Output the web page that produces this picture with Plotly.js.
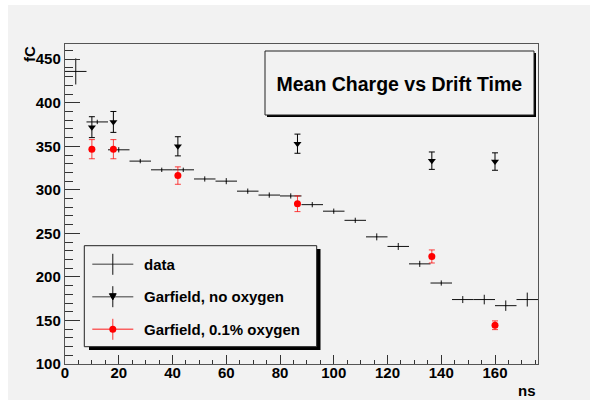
<!DOCTYPE html>
<html><head><meta charset="utf-8">
<script src="https://cdn.plot.ly/plotly-3.0.1.min.js"></script>
<style>html,body{margin:0;padding:0;background:#ffffff;} #chart{position:absolute;left:8px;top:5px;width:582px;height:395px;}</style>
</head><body><div id="chart"></div>
<script>
// ---- data ----
const dataX   = [4, 12, 20, 28, 36, 44, 52, 60, 68, 76, 84, 92, 100, 108, 116, 124, 132, 140, 148, 156, 164, 172];
const dataY   = [436, 378, 346, 333, 323, 323, 312.5, 310, 298.5, 294, 293, 283, 275.5, 265, 246, 235, 215, 193, 174, 174, 167, 174];
const dataYErr = [15, 2.5, 3, 2.5, 2.5, 2.5, 3, 3.5, 3, 3, 3, 3, 3, 3, 4, 4, 3.5, 3, 4, 5.5, 6, 8];
const dataXErr = [4, 4, 4, 4, 4, 4, 4, 4, 4, 4, 4, 4, 4, 4, 4, 4, 4, 4, 4, 4, 4, 4];

const garX      = [10, 18, 42, 86.5, 136.5, 160];
const noOxY     = [372, 378, 350, 353, 333.5, 332.5];
const noOxErr   = [12, 12, 11, 11, 10, 10];
const oxY       = [346.7, 346.7, 316.4, 284, 223.5, 144.5];
const oxErr     = [11, 11, 10, 9, 7.5, 5];

const seriesNames = ['data', 'Garfield, no oxygen', 'Garfield, 0.1% oxygen'];
const chartTitle = 'Mean Charge vs Drift Time';
const xTitle = 'ns';
const yTitle = 'fC';

// ---- helpers: image pixel -> paper fraction ----
const fx = X => (X - 65) / 473;
const fy = Y => (364 - Y) / 320;

const FONT = {family: 'Liberation Sans, Arial, Helvetica, sans-serif', color: '#000', weight: 'bold'};
const BG = '#f2f2f2';

const traces = [
  {
    name: seriesNames[0], x: dataX, y: dataY, type: 'scatter', mode: 'markers',
    marker: {size: 1, color: '#000'}, showlegend: false, cliponaxis: false,
    error_x: {type: 'data', array: dataXErr, visible: true, width: 0, thickness: 1, color: '#111'},
    error_y: {type: 'data', array: dataYErr, visible: true, width: 0, thickness: 1, color: '#111'}
  },
  {
    name: seriesNames[1], x: garX, y: noOxY, type: 'scatter', mode: 'markers',
    marker: {symbol: 'triangle-down', size: 7, color: '#000'}, showlegend: false,
    error_y: {type: 'data', array: noOxErr, visible: true, width: 3, thickness: 1, color: '#000'}
  },
  {
    name: seriesNames[2], x: garX, y: oxY, type: 'scatter', mode: 'markers',
    marker: {symbol: 'circle', size: 7, color: '#ff0000'}, showlegend: false,
    error_y: {type: 'data', array: oxErr, visible: true, width: 3, thickness: 1, color: 'rgba(255,0,0,0.75)'}
  }
];

const shapes = [];
function rect(x0, y0, x1, y1, fill, line, lw) {
  shapes.push({type: 'rect', xref: 'paper', yref: 'paper', x0: fx(x0), x1: fx(x1), y0: fy(y1), y1: fy(y0),
    fillcolor: fill, line: {color: line, width: lw}, layer: 'above'});
}
function seg(x0, y0, x1, y1, color, w) {
  shapes.push({type: 'line', xref: 'paper', yref: 'paper', x0: fx(x0), x1: fx(x1), y0: fy(y0), y1: fy(y1),
    line: {color: color, width: w}, layer: 'above'});
}
// title box with shadow
rect(267, 53, 536, 117, '#000', '#000', 0);
rect(265, 51, 534, 115, BG, '#222', 1);
// legend box with shadow
rect(89, 249, 320.5, 350, '#000', '#000', 0);
rect(84.3, 245.7, 316.7, 346.7, BG, '#222', 1);

const rowsY = [264.3, 296.7, 329.3];
const symX0 = 92.3, symX1 = 133.3, symXC = 112.8;
// row 1: data
seg(symX0, rowsY[0], symX1, rowsY[0], '#777', 1.5);
seg(symXC, rowsY[0] - 10.5, symXC, rowsY[0] + 10.5, '#111', 1);
// row 2: no oxygen
seg(symX0, rowsY[1], symX1, rowsY[1], '#777', 1.5);
seg(symXC, rowsY[1] - 10.5, symXC, rowsY[1] + 10.5, '#111', 1);
shapes.push({type: 'path', xref: 'paper', yref: 'paper', layer: 'above',
  path: `M ${fx(symXC - 3.4)},${fy(rowsY[1] - 3)} L ${fx(symXC + 3.4)},${fy(rowsY[1] - 3)} L ${fx(symXC)},${fy(rowsY[1] + 3.2)} Z`,
  fillcolor: '#000', line: {color: '#000', width: 1}});
// row 3: 0.1% oxygen
seg(symX0, rowsY[2], symX1, rowsY[2], 'rgba(255,0,0,0.6)', 1.5);
seg(symXC, rowsY[2] - 10.5, symXC, rowsY[2] + 10.5, 'rgba(255,0,0,0.8)', 1);
shapes.push({type: 'circle', xref: 'paper', yref: 'paper', layer: 'above',
  x0: fx(symXC - 3.5), x1: fx(symXC + 3.5), y0: fy(rowsY[2] + 3.5), y1: fy(rowsY[2] - 3.5),
  fillcolor: '#ff0000', line: {color: '#ff0000', width: 0}});

const annotations = seriesNames.map((t, i) => ({
  text: t, xref: 'paper', yref: 'paper', x: fx(142.3), y: fy(rowsY[i]), xanchor: 'left', yanchor: 'middle',
  showarrow: false, font: Object.assign({}, FONT, {size: 15})
}));
annotations.push({text: xTitle, xref: 'paper', yref: 'paper', x: fx(538), y: fy(390), xanchor: 'right', yanchor: 'middle',
  showarrow: false, font: Object.assign({}, FONT, {size: 15})});
annotations.push({text: yTitle, xref: 'paper', yref: 'paper', x: fx(29), y: fy(44), xanchor: 'center', yanchor: 'top',
  textangle: -90, showarrow: false, font: Object.assign({}, FONT, {size: 15})});

const layout = {
  width: 582, height: 395,
  margin: {l: 57, r: 52, t: 39, b: 36, pad: 0},
  paper_bgcolor: BG, plot_bgcolor: BG,
  showlegend: false,
  title: {text: chartTitle, xref: 'paper', yref: 'paper', x: fx(399.3), y: fy(84), xanchor: 'center', yanchor: 'middle',
    font: Object.assign({}, FONT, {size: 19.5})},
  xaxis: {
    range: [0, 176], tick0: 0, dtick: 20, ticks: 'inside', ticklen: 9, tickwidth: 1, tickcolor: '#333',
    minor: {dtick: 5, ticks: 'inside', ticklen: 4.5, tickwidth: 1, tickcolor: '#333'},
    showgrid: false, zeroline: false, showline: true, mirror: true, linecolor: '#555', linewidth: 1.2,
    tickfont: Object.assign({}, FONT, {size: 15}), ticklabelstandoff: -5
  },
  yaxis: {
    range: [100, 467.5], tick0: 100, dtick: 50, ticks: 'inside', ticklen: 15, tickwidth: 1, tickcolor: '#333',
    minor: {dtick: 10, ticks: 'inside', ticklen: 7.5, tickwidth: 1, tickcolor: '#333'},
    showgrid: false, zeroline: false, showline: true, mirror: true, linecolor: '#555', linewidth: 1.2,
    tickfont: Object.assign({}, FONT, {size: 15}), ticklabelstandoff: 0
  },
  shapes: shapes,
  annotations: annotations
};

Plotly.newPlot('chart', traces, layout, {staticPlot: true, displayModeBar: false});
</script></body></html>
